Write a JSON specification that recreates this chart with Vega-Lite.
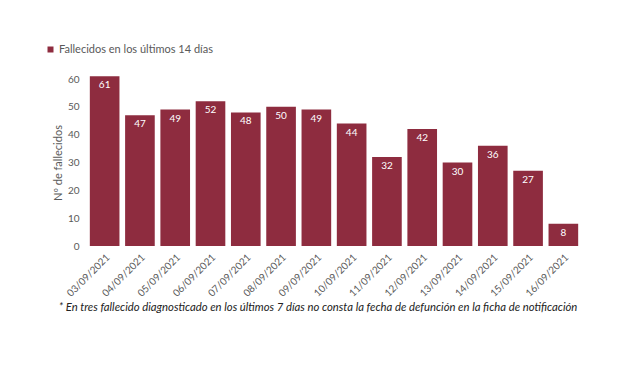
{
  "$schema": "https://vega.github.io/schema/vega-lite/v6.json",
  "width": 494,
  "height": 167,
  "autosize": {"type": "none"},
  "padding": {"left": 87, "top": 79, "right": 39, "bottom": 122},
  "background": "white",
  "config": {"font": "Lato", "view": {"stroke": null}},
  "title": {
    "text": "* En tres fallecido diagnosticado en los últimos 7 días no consta la fecha de defunción en la ficha de notificación",
    "orient": "bottom",
    "anchor": "middle",
    "dx": -16,
    "offset": 4,
    "fontSize": 11.3,
    "fontStyle": "italic",
    "fontWeight": "normal",
    "color": "#222222",
    "font": "Lato"
  },
  "data": {
    "values": [
      {"fecha": "03/09/2021", "n": 61, "serie": "Fallecidos en los últimos 14 días"},
      {"fecha": "04/09/2021", "n": 47, "serie": "Fallecidos en los últimos 14 días"},
      {"fecha": "05/09/2021", "n": 49, "serie": "Fallecidos en los últimos 14 días"},
      {"fecha": "06/09/2021", "n": 52, "serie": "Fallecidos en los últimos 14 días"},
      {"fecha": "07/09/2021", "n": 48, "serie": "Fallecidos en los últimos 14 días"},
      {"fecha": "08/09/2021", "n": 50, "serie": "Fallecidos en los últimos 14 días"},
      {"fecha": "09/09/2021", "n": 49, "serie": "Fallecidos en los últimos 14 días"},
      {"fecha": "10/09/2021", "n": 44, "serie": "Fallecidos en los últimos 14 días"},
      {"fecha": "11/09/2021", "n": 32, "serie": "Fallecidos en los últimos 14 días"},
      {"fecha": "12/09/2021", "n": 42, "serie": "Fallecidos en los últimos 14 días"},
      {"fecha": "13/09/2021", "n": 30, "serie": "Fallecidos en los últimos 14 días"},
      {"fecha": "14/09/2021", "n": 36, "serie": "Fallecidos en los últimos 14 días"},
      {"fecha": "15/09/2021", "n": 27, "serie": "Fallecidos en los últimos 14 días"},
      {"fecha": "16/09/2021", "n": 8, "serie": "Fallecidos en los últimos 14 días"}
    ]
  },
  "encoding": {
    "x": {
      "field": "fecha",
      "type": "ordinal",
      "sort": null,
      "scale": {"paddingInner": 0.16, "paddingOuter": 0.08},
      "axis": {
        "title": null,
        "labelAngle": -45,
        "labelFontSize": 10,
        "labelColor": "#595959",
        "domain": false,
        "ticks": false,
        "labelPadding": 6
      }
    },
    "y": {
      "field": "n",
      "type": "quantitative",
      "scale": {"domain": [0, 60], "nice": false},
      "axis": {
        "title": "Nº de fallecidos",
        "titleFontSize": 11,
        "titleFontWeight": "normal",
        "titleColor": "#595959",
        "titlePadding": 4,
        "values": [0, 10, 20, 30, 40, 50, 60],
        "labelFontSize": 10,
        "labelColor": "#595959",
        "labelPadding": 8,
        "domain": false,
        "ticks": false,
        "grid": false
      }
    }
  },
  "layer": [
    {
      "mark": {"type": "bar", "clip": false},
      "encoding": {
        "color": {
          "field": "serie",
          "type": "nominal",
          "scale": {"range": ["#8e2c3f"]},
          "legend": {
            "title": null,
            "orient": "none",
            "legendX": -42,
            "legendY": -35,
            "symbolType": "square",
            "symbolSize": 36,
            "labelFontSize": 11,
            "labelColor": "#595959",
            "labelOffset": 3
          }
        }
      }
    },
    {
      "mark": {"type": "text", "baseline": "top", "dy": 4, "color": "white", "fontSize": 10, "font": "Lato"},
      "encoding": {"text": {"field": "n", "type": "quantitative"}}
    }
  ]
}
